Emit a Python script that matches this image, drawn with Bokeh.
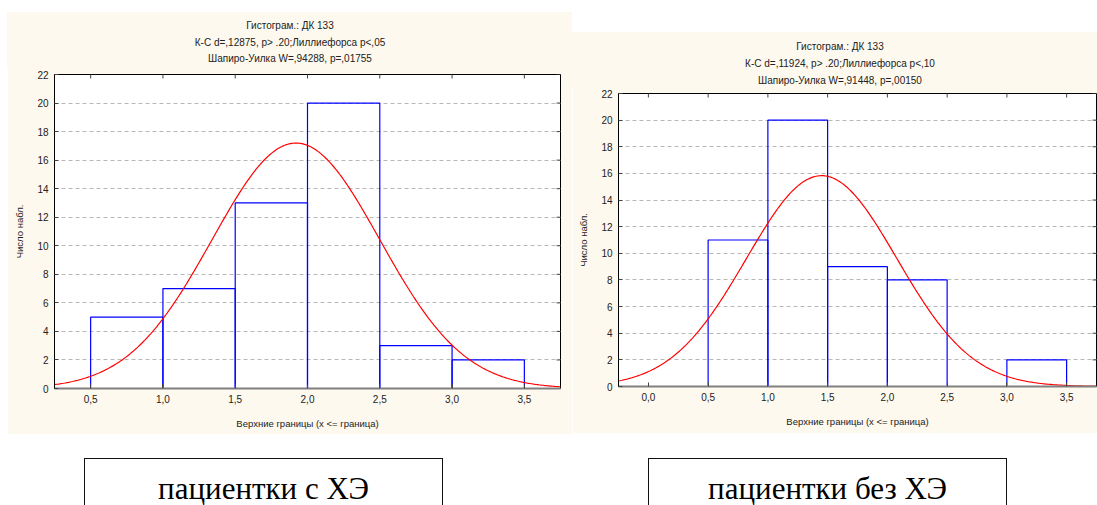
import numpy as np
from bokeh.plotting import figure
from bokeh.models import Range1d, FixedTicker, Spacer, Div
from bokeh.layouts import row, column
from bokeh.embed import file_html
from bokeh.resources import INLINE

# ---------------- data ----------------
bin_edges = [0.0, 0.5, 1.0, 1.5, 2.0, 2.5, 3.0, 3.5]
counts_left = [0, 5, 7, 13, 20, 3, 2]
counts_right = [0, 11, 20, 9, 8, 0, 2]
# fitted normal curve parameters
mean_left, sd_left, n_left = 1.92, 0.58, 50
mean_right, sd_right, n_right = 1.45, 0.63, 50
bin_width = 0.5

x_range_left = (0.25, 3.75)
x_range_right = (-0.25, 3.75)
x_ticks_left = [0.5, 1.0, 1.5, 2.0, 2.5, 3.0, 3.5]
x_labels_left = ["0,5", "1,0", "1,5", "2,0", "2,5", "3,0", "3,5"]
x_ticks_right = [0.0, 0.5, 1.0, 1.5, 2.0, 2.5, 3.0, 3.5]
x_labels_right = ["0,0", "0,5", "1,0", "1,5", "2,0", "2,5", "3,0", "3,5"]
y_ticks = [0, 2, 4, 6, 8, 10, 12, 14, 16, 18, 20, 22]

titles_left = ["Гистограм.: ДК 133",
               "К-С d=,12875, p> .20;Лиллиефорса p<,05",
               "Шапиро-Уилка W=,94288, p=,01755"]
titles_right = ["Гистограм.: ДК 133",
                "К-С d=,11924, p> .20;Лиллиефорса p<,10",
                "Шапиро-Уилка W=,91448, p=,00150"]
x_label = "Верхние границы (x <= граница)"
y_label = "Число набл."
group_labels = ["пациентки с ХЭ", "пациентки без ХЭ"]

CREAM = "#fef9ee"
FONT = "Liberation Sans"
TXT = "#222222"
TICK = "#444444"


def make_plot(counts, mean, sd, n, xr, xticks, xlabels,
              width, height, mb_left, mb_right, mb_top, mb_bottom):
    p = figure(width=width, height=height, x_range=Range1d(*xr),
               y_range=Range1d(0, 22), output_backend="svg",
               toolbar_location=None, title_location=None,
               min_border_left=mb_left, min_border_right=mb_right,
               min_border_top=mb_top, min_border_bottom=mb_bottom)
    p.border_fill_color = CREAM
    p.background_fill_color = "white"
    p.outline_line_color = "black"
    p.outline_line_width = 1

    # grid
    p.xgrid.visible = False
    p.ygrid.ticker = FixedTicker(ticks=y_ticks)
    p.ygrid.grid_line_color = "#b8b8b8"
    p.ygrid.grid_line_dash = "4 3"
    p.ygrid.grid_line_width = 1

    # histogram bars
    p.quad(left=bin_edges[:-1], right=bin_edges[1:], bottom=0, top=counts,
           fill_color=None, line_color="#0000ff", line_width=1.2)
    # normal curve
    xs = np.linspace(xr[0], xr[1], 400)
    ys = n * bin_width / (sd * np.sqrt(2 * np.pi)) * np.exp(-0.5 * ((xs - mean) / sd) ** 2)
    p.line(xs, ys, line_color="#ff0000", line_width=1.2)

    # inward tick marks on the top and right frame edges
    p.scatter(x=xticks, y=[y_ticks[-1]] * len(xticks), marker="dash",
              angle=np.pi / 2, size=8, line_color=TICK, line_width=1)
    p.scatter(x=[xr[1]] * len(y_ticks), y=y_ticks, marker="dash",
              size=8, line_color=TICK, line_width=1)

    # bottom axis
    xa = p.xaxis[0]
    xa.ticker = FixedTicker(ticks=xticks)
    xa.major_label_overrides = {t: l for t, l in zip(xticks, xlabels)}
    xa.axis_line_color = "#808080"
    xa.axis_line_width = 2
    xa.major_tick_in = 4
    xa.major_tick_out = 0
    xa.major_tick_line_color = TICK
    xa.minor_tick_line_color = None
    xa.major_label_text_font = FONT
    xa.major_label_text_font_size = "10px"
    xa.major_label_text_color = TXT
    xa.major_label_standoff = 6
    xa.axis_label = x_label
    xa.axis_label_text_font = FONT
    xa.axis_label_text_font_size = "9.5px"
    xa.axis_label_text_font_style = "normal"
    xa.axis_label_text_color = TXT
    xa.axis_label_standoff = 12

    # left axis
    ya = p.yaxis[0]
    ya.ticker = FixedTicker(ticks=y_ticks)
    ya.axis_line_color = "black"
    ya.major_tick_in = 4
    ya.major_tick_out = 0
    ya.major_tick_line_color = TICK
    ya.minor_tick_line_color = None
    ya.major_label_text_font = FONT
    ya.major_label_text_font_size = "10px"
    ya.major_label_text_color = TXT
    ya.major_label_standoff = 6
    ya.axis_label = y_label
    ya.axis_label_text_font = FONT
    ya.axis_label_text_font_size = "9.5px"
    ya.axis_label_text_font_style = "normal"
    ya.axis_label_text_color = TXT
    ya.axis_label_standoff = 9
    return p


def heading(lines, width, height, center_x, centers_y):
    parts = []
    for t, cy in zip(lines, centers_y):
        parts.append(
            f'<div style="position:absolute; left:{center_x - 250}px; width:500px; '
            f'top:{cy - 7}px; height:14px; line-height:14px; text-align:center; '
            f'white-space:nowrap;">{t}</div>')
    html = (f'<div style="position:relative; width:{width}px; height:{height + 1}px; '
            f'background:{CREAM}; font-family:\'{FONT}\', sans-serif; font-size:10px; '
            f'color:{TXT};">' + "".join(parts) + '</div>')
    return Div(text=html, width=width, height=height, margin=0,
               styles={"background-color": CREAM})


left_plot = make_plot(counts_left, mean_left, sd_left, n_left, x_range_left,
                      x_ticks_left, x_labels_left,
                      width=565, height=366, mb_left=47, mb_right=12,
                      mb_top=6, mb_bottom=46)
left_head = heading(titles_left, 565, 56, 283, [14, 31, 47])

right_plot = make_plot(counts_right, mean_right, sd_right, n_right, x_range_right,
                       x_ticks_right, x_labels_right,
                       width=525, height=346, mb_left=46, mb_right=1,
                       mb_top=6, mb_bottom=47)
right_head = heading(titles_right, 525, 55, 268, [15, 32, 49])

box_style = ("position:absolute; top:24px; height:47px; border:1.5px solid #111;"
             "border-bottom:none; background:white; box-sizing:border-box;"
             "font-family:'Liberation Serif', serif; font-size:31px; color:#000;"
             "text-align:center; line-height:30px; padding-top:15px; white-space:nowrap;")
div_html = (
    '<div style="position:relative; width:1097px; height:71px; overflow:hidden; background:white;">'
    f'<div style="{box_style} left:84px; width:359px;">{group_labels[0]}</div>'
    f'<div style="{box_style} left:648px; width:359px;">{group_labels[1]}</div>'
    '</div>'
)
boxes = Div(text=div_html, width=1097, height=71, margin=0)

layout = column(
    row(Spacer(width=7, height=434),
        column(Spacer(width=565, height=12), left_head, left_plot),
        column(Spacer(width=525, height=32), right_head, right_plot)),
    boxes,
)

open("out.html", "w").write(file_html(layout, INLINE))
